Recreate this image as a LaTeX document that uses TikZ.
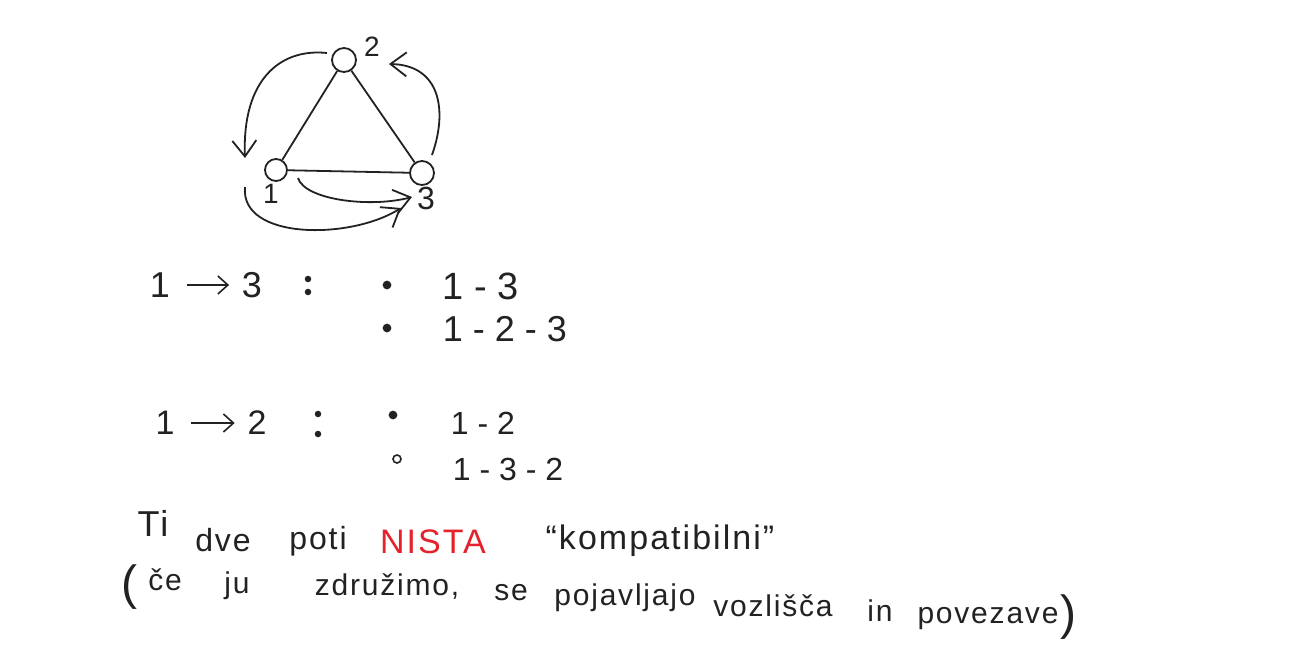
\documentclass[tikz,border=0pt]{standalone}
\usepackage{fontspec}
\setmainfont{Liberation Sans}
\newfontfamily\hand[LetterSpace=6]{Liberation Sans}
\usetikzlibrary{arrows.meta}
\definecolor{ink}{HTML}{222222}
\definecolor{redink}{HTML}{E5222C}
\begin{document}
\begin{tikzpicture}[x=0.5pt,y=-0.5pt,
  line width=0.9pt, draw=ink,
  vtx/.style={circle, draw=ink, line width=0.9pt, inner sep=0pt},
  lbl/.style={text=ink, inner sep=0pt, font=\fontsize{14}{16}\selectfont},
  dig/.style={text=ink, inner sep=0pt, font=\fontsize{#1}{20}\selectfont},
  wd/.style={text=ink, inner sep=0pt, anchor=base, font=\fontsize{#1}{18}\selectfont\hand},
  barb/.style={-{Straight Barb[length=8pt,width=12pt]}},
  tarrow/.style={-{Straight Barb[length=5pt,width=9pt]}, line width=0.8pt},
  bul/.style={circle, draw=ink, fill=ink, line width=0.8pt, minimum size=3.5pt, inner sep=0pt},
  cdot/.style={circle, draw=ink, fill=ink, line width=0.6pt, minimum size=2.6pt, inner sep=0pt},
  hbul/.style={circle, draw=ink, fill=white, line width=0.8pt, minimum size=4pt, inner sep=0pt}]
\useasboundingbox[fill=white] (0,0) rectangle (1290,655);

% graph
\node[vtx, minimum size=12pt] (n2) at (344,60) {};
\node[vtx, minimum size=11pt] (n1) at (276,170) {};
\node[vtx, minimum size=12pt] (n3) at (422,173) {};
\draw (n1) -- (n2);
\draw (n2) -- (n3);
\draw (n1) -- (n3);
\node[lbl] (l2) at (372,47) {2};
\node[lbl] (l1) at (271,194) {1};
\node[lbl, font=\fontsize{16}{18}\selectfont] (l3) at (426,198) {3};

\coordinate (la0) at (327,53);
\coordinate (la1) at (245,158);
\draw[barb] (la0) .. controls (280,48) and (242,80) .. (la1);
\coordinate (ra0) at (432,155);
\coordinate (ra1) at (389,64);
\draw[barb] (ra0) .. controls (448,110) and (440,65) .. (ra1);
\coordinate (ba0) at (298,178);
\coordinate (ba1) at (412,197);
\draw[barb] (ba0) .. controls (305,200) and (370,208) .. (ba1);
\coordinate (bb0) at (245,187);
\coordinate (bb1) at (401,208);
\draw[barb] (bb0) .. controls (240,240) and (350,240) .. (bb1);

% 1 -> 3
\node[dig=18] (p1a) at (160,285) {1};
\node[dig=18] (p1b) at (252,285) {3};
\draw[tarrow, shorten <=8pt, shorten >=6pt] (p1a) -- (p1b);
\node[cdot] (c1a) at (308,279) {};
\node[cdot] (c1b) at (308,292) {};
\node[bul] (b1) at (387,285) {};
\node[dig=19, anchor=west] (r1) at (442,286) {1 - 3};
\node[bul] (b2) at (387,328) {};
\node[dig=18, anchor=west] (r2) at (442,329) {1 - 2 - 3};

% 1 -> 2
\node[dig=17] (p2a) at (165,423) {1};
\node[dig=17] (p2b) at (257,423) {2};
\draw[tarrow, shorten <=8pt, shorten >=6pt] (p2a) -- (p2b);
\node[cdot] (c2a) at (318,414) {};
\node[cdot] (c2b) at (318,434) {};
\node[bul] (b3) at (393,415) {};
\node[dig=16, anchor=west] (r3) at (450,423) {1 - 2};
\node[hbul] (b4) at (397,459) {};
\node[dig=16, anchor=west] (r4) at (452,469) {1 - 3 - 2};

% sentence line 1
\node[wd=18] (w1) at (153,536) {Ti};
\node[wd=16] (w2) at (223,551) {dve};
\node[wd=16] (w3) at (318,549) {poti};
\node[wd=17, text=redink] (w4) at (433,553) {NISTA};
\node[wd=17] (w5) at (660,549) {\char"201C kompatibilni\char"201D};

% sentence line 2
\node[text=ink, inner sep=0pt, font=\fontsize{24}{26}\selectfont] (pl) at (129,587) {(};
\node[wd=15] (v1) at (165,590) {če};
\node[wd=15] (v2) at (237,593) {ju};
\node[wd=15] (v3) at (387,595) {združimo,};
\node[wd=15] (v4) at (511,600) {se};
\node[wd=15] (v5) at (625,605) {pojavljajo};
\node[wd=15] (v6) at (773,616) {vozlišča};
\node[wd=15] (v7) at (880,621) {in};
\node[wd=15] (v8) at (988,623) {povezave};
\node[text=ink, inner sep=0pt, font=\fontsize{24}{26}\selectfont] (pr) at (1068,617) {)};
\end{tikzpicture}
\end{document}
